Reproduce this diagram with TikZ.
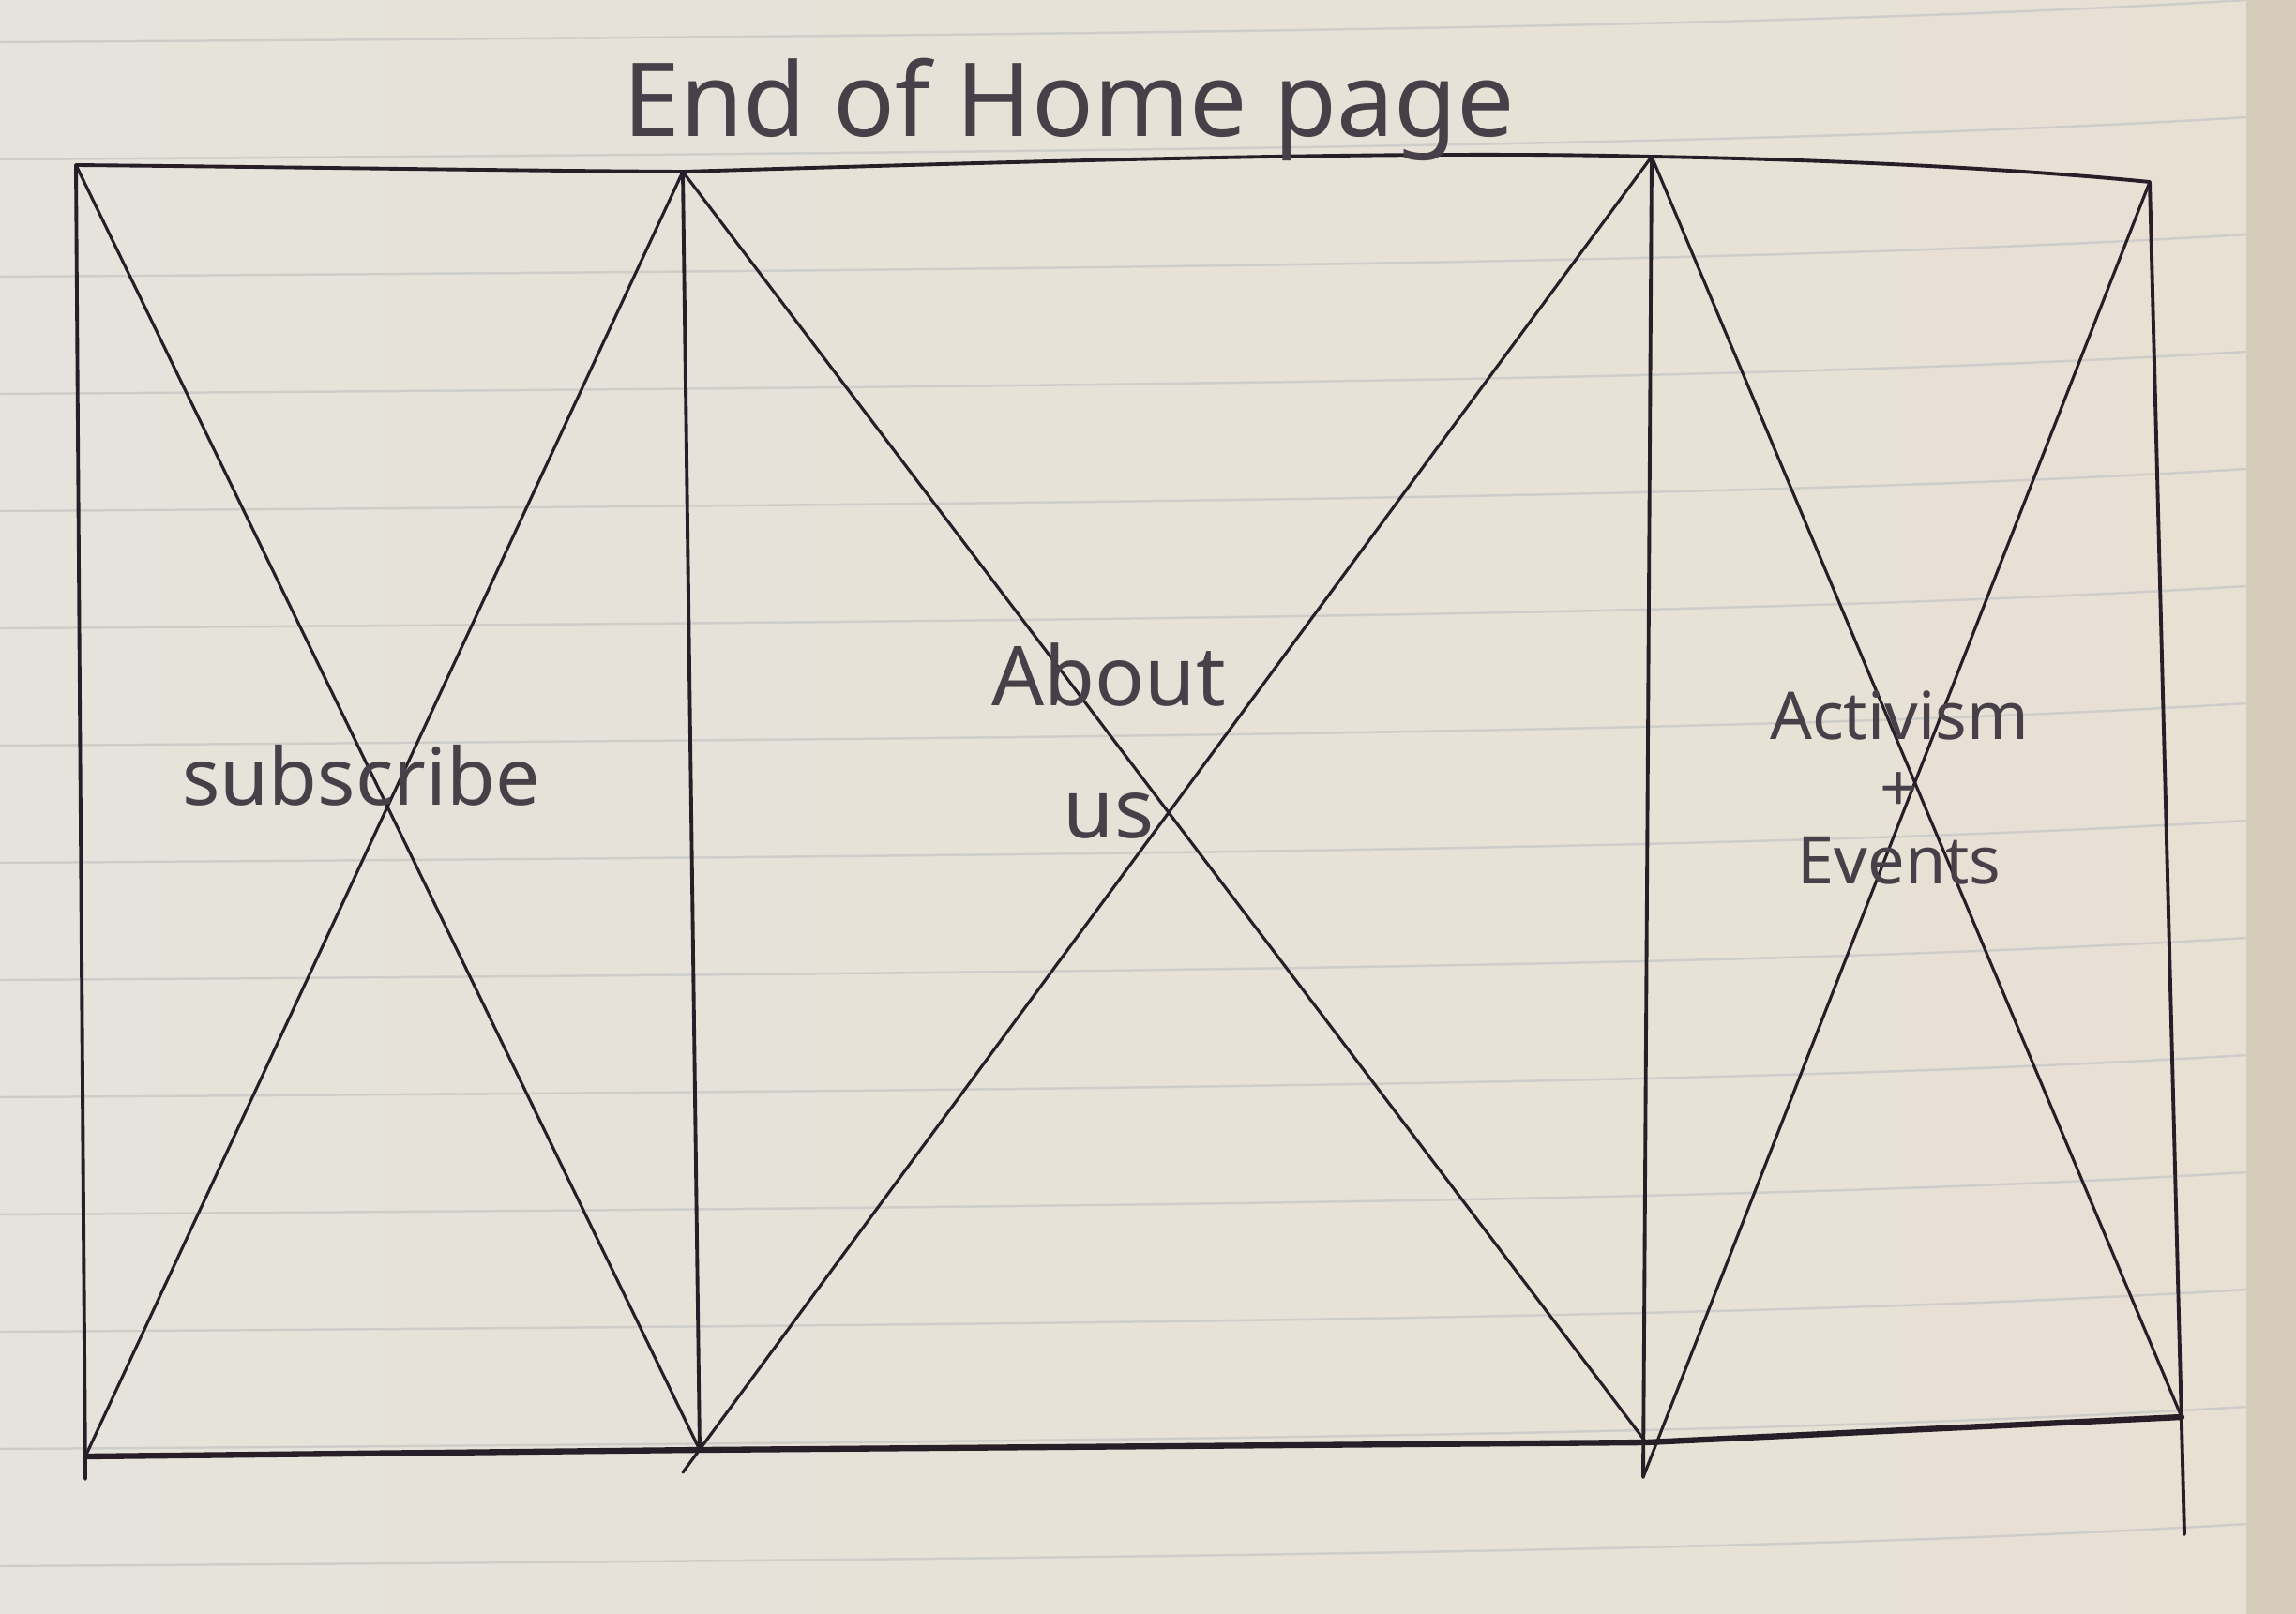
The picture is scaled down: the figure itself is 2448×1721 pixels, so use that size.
\documentclass[tikz,border=0pt]{standalone}
\usepackage{fontspec}
\setmainfont{Noto Sans}
\definecolor{paper}{RGB}{229,227,219}
\definecolor{paperR}{RGB}{233,224,212}
\definecolor{edge}{RGB}{214,204,188}
\definecolor{rule}{RGB}{206,205,201}
\definecolor{ink}{RGB}{40,30,40}
\begin{document}
\begin{tikzpicture}[x=0.01cm,y=-0.01cm,
  inkline/.style={draw=ink,line width=1.1pt,line cap=round,line join=round},
  thick ink/.style={draw=ink,line width=1.8pt,line cap=round,line join=round},
  diag/.style={draw=ink,line width=0.9pt,line cap=round},
  ruled/.style={draw=rule,line width=0.7pt},
  label/.style={text=ink!85,inner sep=0pt,font=\fontsize{24}{28}\selectfont}]
\useasboundingbox (0,0) rectangle (2448,1721);
\shade[left color=paper,right color=paperR] (0,0) rectangle (2448,1721);
\fill[edge] (2395,0) rectangle (2448,1721);
% ruled lines of the paper
\foreach \y in {45,170,295,420,545,670,795,920,1045,1170,1295,1420,1545,1670}{
  \draw[ruled] (0,\y) .. controls (1200,\y-8) and (1900,\y-15) .. (2395,\y-45);
}
% corners
\coordinate (A) at (81,176);
\coordinate (B) at (728,183);
\coordinate (C) at (1761,167);
\coordinate (D) at (2292,194);
\coordinate (E) at (91,1553);
\coordinate (F) at (746,1546);
\coordinate (G) at (1755,1538);
\coordinate (H) at (2326,1511);
\coordinate (Eb) at (91,1577);
\coordinate (Fb) at (728,1570);
\coordinate (Gb) at (1752,1575);
\coordinate (Hb) at (2329,1636);
% frame
\draw[inkline] (A) .. controls (300,178) and (550,182) .. (B) .. controls (1100,172) and (1500,160) .. (C) .. controls (1950,170) and (2150,180) .. (D);
\draw[thick ink] (E) -- (F) -- (G) -- (H);
\draw[inkline] (A) -- (Eb);
\draw[inkline] (B) -- (F);
\draw[inkline] (C) -- (Gb);
\draw[inkline] (D) -- (Hb);
% crosses
\draw[diag] (A) -- (F);
\draw[diag] (B) -- (E);
\draw[diag] (B) -- (G);
\draw[diag] (C) -- (Fb);
\draw[diag] (C) -- (H);
\draw[diag] (D) -- (Gb);
% labels
\node[label,font=\fontsize{31}{36}\selectfont] (title) at (1140,117) {End of Home page};
\node[label] (sub) at (385,827) {subscribe};
\node[label,align=center,font=\fontsize{25}{40}\selectfont] (about) at (1182,790) {About\\us};
\node[label,align=center,font=\fontsize{20}{22}\selectfont] (act) at (2025,840) {Activism\\+\\Events};
\end{tikzpicture}
\end{document}
